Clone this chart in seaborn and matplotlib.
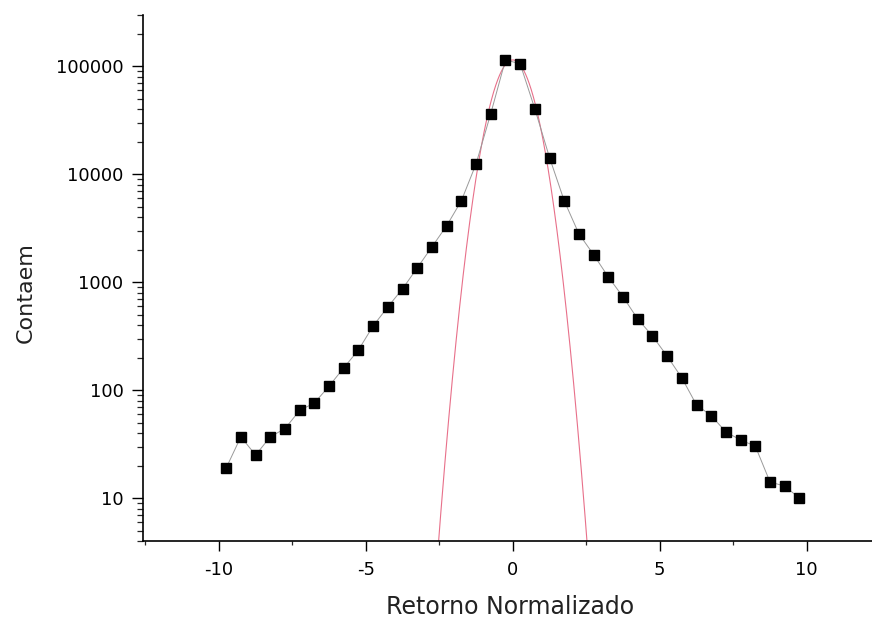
import numpy as np
import pandas as pd
import matplotlib
matplotlib.use("Agg")
import matplotlib.pyplot as plt
import seaborn as sns
from matplotlib.ticker import LogLocator, NullFormatter, FixedLocator

# --- data ---
retorno = [-9.75, -9.25, -8.75, -8.25, -7.75, -7.25, -6.75, -6.25, -5.75, -5.25,
           -4.75, -4.25, -3.75, -3.25, -2.75, -2.25, -1.75, -1.25, -0.75, -0.25,
           0.25, 0.75, 1.25, 1.75, 2.25, 2.75, 3.25, 3.75, 4.25, 4.75,
           5.25, 5.75, 6.25, 6.75, 7.25, 7.75, 8.25, 8.75, 9.25, 9.75]
contagem = [19, 37, 25, 37, 44, 65, 76, 109, 161, 236,
            394, 592, 870, 1360, 2130, 3340, 5690, 12500, 36500, 115000,
            106000, 40500, 14300, 5690, 2810, 1800, 1120, 732, 457, 318,
            207, 130, 73, 58, 41, 34.5, 30.3, 14.1, 12.9, 10]

# Gaussian fit parameters (red curve)
gauss_amp = 115000
gauss_mu = 0.0
gauss_sigma = 0.557

x_ticks = [-10, -5, 0, 5, 10]
x_minor = [-12.5, -7.5, -2.5, 2.5, 7.5, 12.5]
y_ticks = [10, 100, 1000, 10000, 100000]

df = pd.DataFrame({"Retorno": retorno, "Contagem": contagem})
xg = np.linspace(-3.0, 3.0, 601)
df_g = pd.DataFrame({"x": xg,
                     "y": gauss_amp * np.exp(-(xg - gauss_mu) ** 2 / (2 * gauss_sigma ** 2))})

sns.set_style("ticks")
plt.rcParams["font.family"] = ["DejaVu Sans"]

fig = plt.figure(figsize=(8.72, 6.21), dpi=100)
ax = fig.add_axes([143 / 872, 1 - 541 / 621, 1 - 143 / 872, (541 - 15) / 621])

sns.lineplot(data=df_g, x="x", y="y", ax=ax, color="#e8708a", linewidth=0.8,
             estimator=None, sort=False)
sns.lineplot(data=df, x="Retorno", y="Contagem", ax=ax, color="#9a9a9a",
             linewidth=0.7, estimator=None, sort=False)
ax.plot(df["Retorno"], df["Contagem"], linestyle="none", marker="s",
        markersize=7.2, color="black", markeredgecolor="black", zorder=5)

ax.set_yscale("log")
ax.set_xlim(-12.58, 12.22)
ax.set_ylim(4, 3.0e5)

ax.xaxis.set_major_locator(FixedLocator(x_ticks))
ax.xaxis.set_minor_locator(FixedLocator(x_minor))
ax.yaxis.set_major_locator(FixedLocator(y_ticks))
ax.yaxis.set_minor_locator(LogLocator(base=10, subs=np.arange(2, 10), numticks=20))
ax.yaxis.set_minor_formatter(NullFormatter())
ax.set_yticklabels([str(v) for v in y_ticks])
ax.set_xticklabels([str(v) for v in x_ticks])

ax.tick_params(axis="x", which="major", direction="out", length=7, width=1.0,
               labelsize=13, colors="black", pad=7.5)
ax.tick_params(axis="x", which="minor", direction="out", length=3, width=0.9)
ax.tick_params(axis="y", which="major", direction="out", length=8, width=1.0,
               labelsize=13, colors="black", pad=6)
ax.tick_params(axis="y", which="minor", direction="out", length=4.3, width=0.9)

for s in ["top", "right"]:
    ax.spines[s].set_visible(False)
for s in ["left", "bottom"]:
    ax.spines[s].set_linewidth(1.2)
    ax.spines[s].set_color("black")

ax.set_xlabel("Retorno Normalizado", fontsize=17, color="#222222")
ax.set_ylabel("Contaem", fontsize=16, color="#222222")
ax.xaxis.set_label_coords((510 - 143) / (872 - 143), -(595 - 541) / (541 - 15))
ax.yaxis.set_label_coords(-(143 - 36) / (872 - 143), (541 - 293) / (541 - 15))

fig.savefig("out.png", dpi=100)
